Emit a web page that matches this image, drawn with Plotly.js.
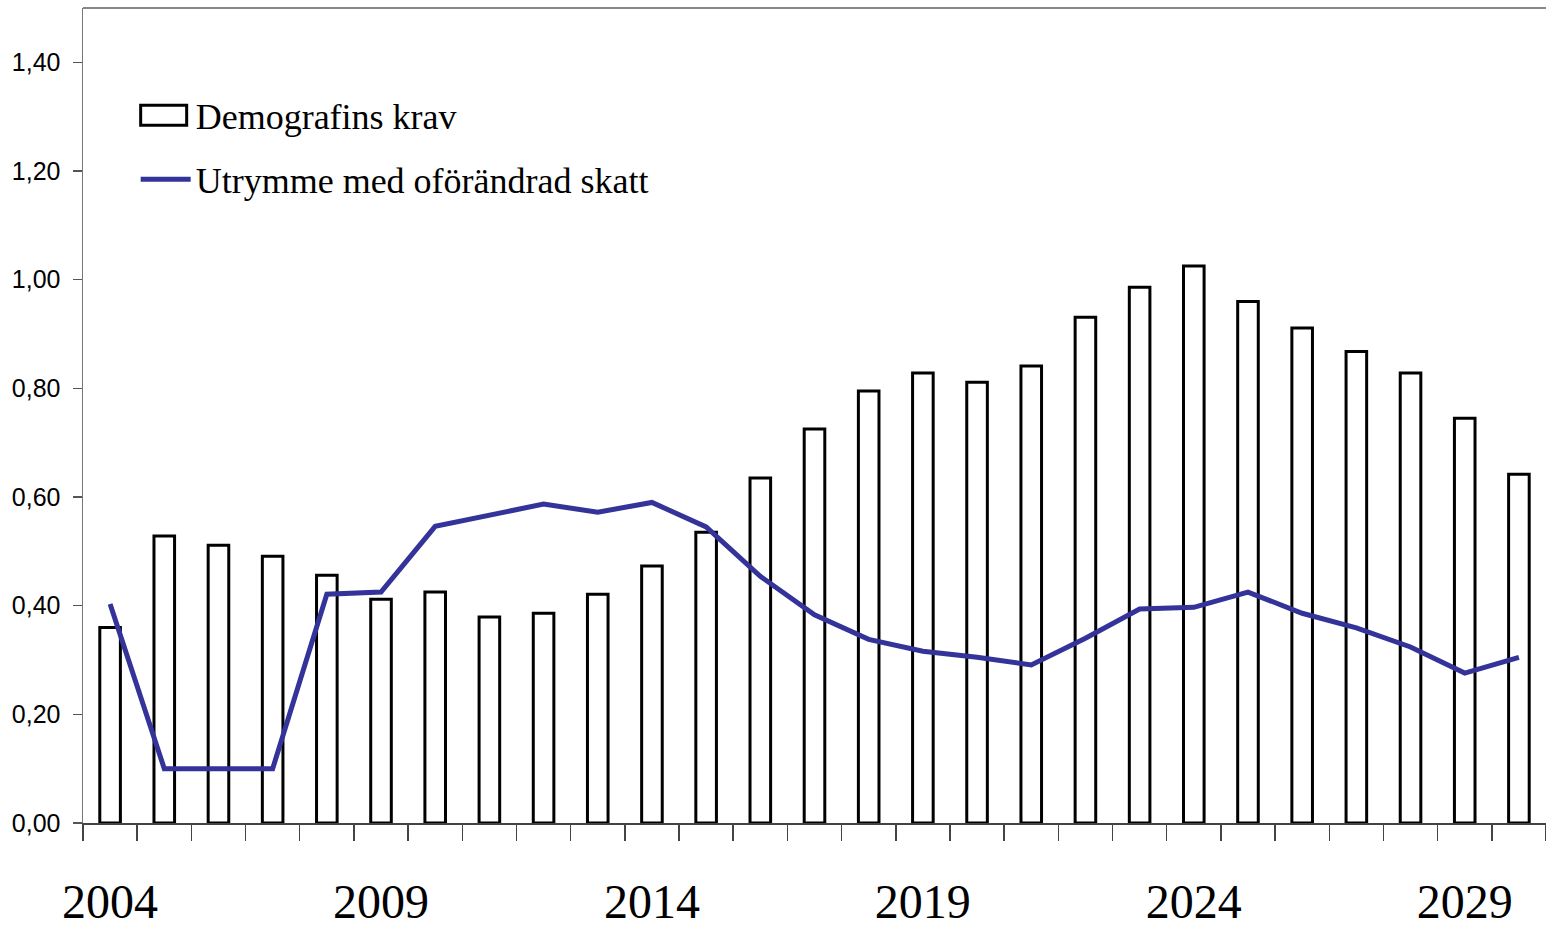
<!DOCTYPE html>
<html>
<head>
<meta charset="utf-8">
<script src="https://cdn.plot.ly/plotly-3.0.1.min.js"></script>
<style>html,body{margin:0;padding:0;background:#fff;}#chart{width:1546px;height:931px;}</style>
</head>
<body>
<div id="chart"></div>
<script>
const years = [2004,2005,2006,2007,2008,2009,2010,2011,2012,2013,2014,2015,2016,2017,2018,2019,2020,2021,2022,2023,2024,2025,2026,2027,2028,2029,2030];
const demografinsKrav = [0.36,0.528,0.511,0.491,0.456,0.412,0.425,0.379,0.386,0.421,0.473,0.535,0.635,0.725,0.795,0.828,0.811,0.841,0.931,0.986,1.025,0.960,0.911,0.868,0.828,0.745,0.642];
const utrymme = [0.403,0.10,0.10,0.10,0.421,0.425,0.546,0.566,0.587,0.572,0.590,0.545,0.454,0.383,0.338,0.316,0.305,0.291,0.340,0.394,0.397,0.425,0.386,0.359,0.324,0.276,0.305];
const labelYears = [2004,2009,2014,2019,2024,2029];
const yTicks = [0,0.2,0.4,0.6,0.8,1.0,1.2,1.4];

const sans = '"Liberation Sans", Arial, sans-serif';
const serif = '"Liberation Serif", "Times New Roman", serif';

const traces = [
  {
    type: 'bar', name: 'Demografins krav', x: years, y: demografinsKrav,
    width: 0.38,
    marker: {color: '#ffffff', line: {color: '#000000', width: 3}},
    legendgroup: 'a', hoverinfo: 'x+y'
  },
  {
    type: 'scatter', mode: 'lines', name: 'Utrymme med oförändrad skatt', x: years, y: utrymme,
    line: {color: '#333399', width: 5},
    legendgroup: 'b', hoverinfo: 'x+y'
  },
  {
    type: 'scatter', mode: 'none', x: labelYears, y: labelYears.map(() => 0), xaxis: 'x2',
    showlegend: false, hoverinfo: 'skip'
  }
];

const layout = {
  width: 1546, height: 931,
  margin: {l: 83, r: 0, t: 8, b: 108},
  paper_bgcolor: '#ffffff', plot_bgcolor: '#ffffff',
  separators: ', ',
  showlegend: true,
  legend: {
    x: 0.036, y: 0.905, xanchor: 'left', yanchor: 'top',
    font: {family: serif, size: 36, color: '#000'},
    bgcolor: 'rgba(0,0,0,0)', borderwidth: 0,
    traceorder: 'grouped', tracegroupgap: 14, itemwidth: 50
  },
  xaxis: {
    type: 'linear', range: [2003.5, 2030.5],
    tick0: 2003.5, dtick: 1, ticks: 'outside', ticklen: 16, tickwidth: 1.5, tickcolor: '#444',
    showticklabels: false, showgrid: false, zeroline: false,
    showline: true, linecolor: '#444', linewidth: 1.5,
    mirror: false, fixedrange: true
  },
  xaxis2: {
    type: 'linear', overlaying: 'x', matches: 'x', anchor: 'y', side: 'bottom',
    tickmode: 'array', tickvals: labelYears, ticktext: labelYears.map(String),
    ticks: '', showgrid: false, zeroline: false, showline: false,
    tickfont: {family: serif, size: 48, color: '#000'},
    ticklabelstandoff: 46
  },
  yaxis: {
    range: [0, 1.5], tickmode: 'array', tickvals: yTicks, tickformat: '.2f',
    ticks: 'outside', ticklen: 9, tickwidth: 1.5, tickcolor: '#555',
    tickfont: {family: sans, size: 25, color: '#000'},
    ticklabelstandoff: 7,
    showgrid: false, zeroline: false, showline: true, linecolor: '#777', linewidth: 1.5,
    fixedrange: true
  },
  shapes: [
    {type: 'line', xref: 'paper', yref: 'paper', x0: 0, x1: 1, y0: 1, y1: 1,
     line: {color: '#888', width: 2}}
  ]
};

Plotly.newPlot('chart', traces, layout, {displayModeBar: false, staticPlot: true}).then(function (gd) {
  // widen the bar legend swatch to the wide outlined rectangle of the reference
  const items = gd.querySelectorAll('.legend .traces');
  if (items.length) {
    const p = items[0].querySelector('.legendpoints path');
    if (p) {
      p.setAttribute('d', 'M-25,-10H21V10H-25Z');
      p.style.strokeWidth = '3px';
    }
  }
});
</script>
</body>
</html>
